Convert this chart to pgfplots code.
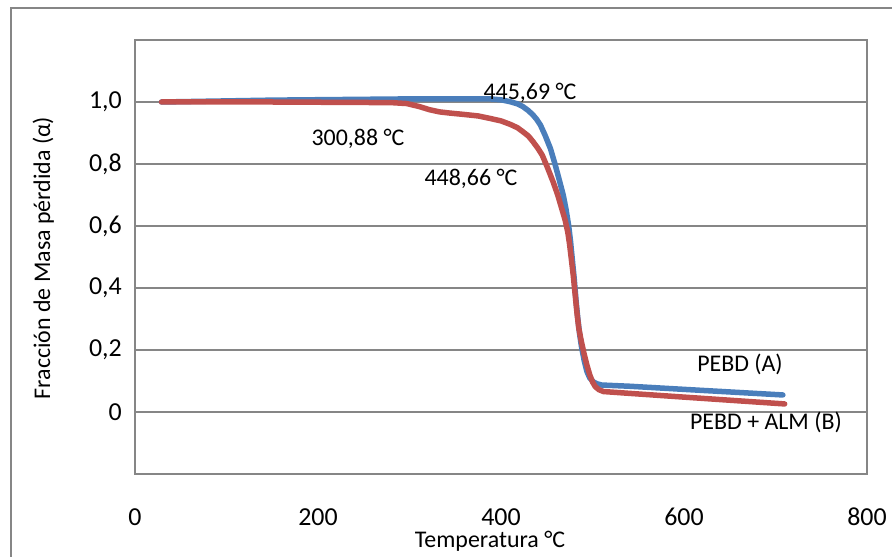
\documentclass[border=0pt]{standalone}
\usepackage{pgfplots}
\pgfplotsset{compat=1.18}
\usepackage{fontspec}
\setmainfont{Carlito}
\definecolor{seriesA}{RGB}{74,126,187}
\definecolor{seriesB}{RGB}{192,80,77}
\definecolor{framegray}{RGB}{134,134,134}

\begin{document}
\begin{tikzpicture}
\useasboundingbox (0bp,0bp) rectangle (892bp,557bp);
% outer chart frame (cut by the page on the right and bottom)
\draw[framegray, line width=2bp] (11bp,-10bp) -- (11bp,549bp) -- (900bp,549bp);
\begin{axis}[
  at={(135bp,83bp)}, anchor=south west,
  scale only axis, width=732bp, height=434bp,
  xmin=0, xmax=800, ymin=-0.2, ymax=1.2,
  xtick={0,200,400,600,800},
  xticklabels={0,200,400,600,800},
  ytick={0,0.2,0.4,0.6,0.8,1.0},
  yticklabels={0,{0,2},{0,4},{0,6},{0,8},{1,0}},
  ymajorgrids,
  major grid style={framegray, line width=1.5bp},
  axis line style={framegray, line width=2bp},
  major tick length=0pt,
  tick label style={font=\fontsize{26}{30}\selectfont, text=black},
  xticklabel style={anchor=base, yshift=-51bp},
  yticklabel style={anchor=east, inner sep=0pt, xshift=-13bp},
  xlabel={Temperatura °C},
  ylabel={Fracción de Masa pérdida (α)},
  label style={font=\fontsize{24}{28}\selectfont},
  xlabel style={at={(axis description cs:0.485,-0.1705)}, anchor=base},
  ylabel style={at={(axis description cs:-0.1161,0.4977)}, anchor=base},
  clip=false,
]
  % PEBD (A)
  \addplot[seriesA, line width=5.5bp, line join=round, line cap=round] coordinates {
    (29,1.0) (150,1.006) (300,1.01) (388,1.01) (400,1.007) (410,1.001)
    (418,0.994) (424,0.985) (430,0.972) (435,0.958) (439,0.944) (443,0.926)
    (448,0.894) (454,0.850) (459,0.800) (464,0.745) (468,0.700) (471,0.655)
    (474,0.600) (476,0.550) (478,0.490) (480,0.430) (482,0.360) (484,0.300)
    (486,0.250) (488,0.210) (491,0.165) (494,0.130) (497,0.110) (501,0.097)
    (505,0.091) (510,0.087) (541,0.083) (600,0.073) (708,0.055)
  };
  % PEBD + ALM (B)
  \addplot[seriesB, line width=5.5bp, line join=round, line cap=round] coordinates {
    (29,1.0) (150,1.0) (280,0.998) (297,0.995) (311,0.985) (322,0.975)
    (333,0.968) (345,0.964) (359,0.960) (375,0.955) (388,0.947) (400,0.939)
    (410,0.928) (418,0.917) (424,0.904) (430,0.890) (435,0.872) (440,0.852)
    (445,0.829) (451,0.787) (457,0.742) (462,0.700) (466,0.660) (470,0.620)
    (473,0.580) (475,0.540) (477,0.490) (479,0.440) (481,0.380) (483,0.320)
    (485,0.270) (488,0.225) (491,0.185) (494,0.150) (497,0.120) (500,0.097)
    (503,0.082) (507,0.072) (512,0.066) (541,0.060) (600,0.048) (710,0.026)
  };
  \node[font=\fontsize{24}{28}\selectfont, anchor=base] at (axis cs:431.7,1.0065) {445,69 °C};
  \node[font=\fontsize{24}{28}\selectfont, anchor=base] at (axis cs:243.7,0.861) {300,88 °C};
  \node[font=\fontsize{24}{28}\selectfont, anchor=base] at (axis cs:367.2,0.732) {448,66 °C};
  \node[font=\fontsize{24}{28}\selectfont, anchor=base] at (axis cs:661.2,0.132) {PEBD (A)};
  \node[font=\fontsize{24}{28}\selectfont, anchor=base] at (axis cs:689.6,-0.058) {PEBD + ALM (B)};
\end{axis}
\end{tikzpicture}
\end{document}
